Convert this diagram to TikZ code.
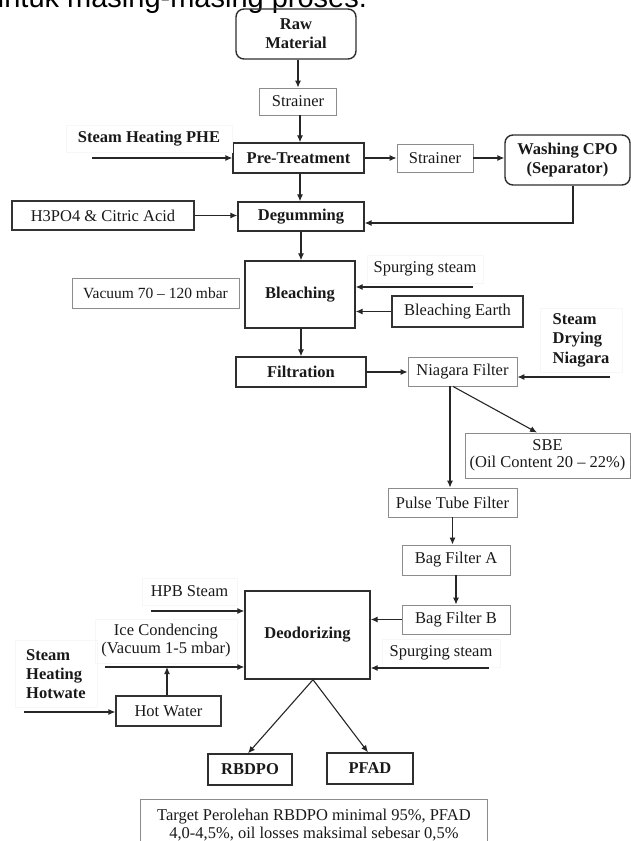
\documentclass[tikz,border=0pt]{standalone}
\usepackage{fontspec}
\setmainfont{Liberation Serif}
\newfontfamily\hdrfont{Liberation Sans}
\usetikzlibrary{arrows.meta}
\begin{document}
\begin{tikzpicture}[x=1pt,y=-1pt,
  txt/.style={font=\fontsize{16.5}{19}\selectfont, text=black!90},
  proc/.style={txt, draw=black!82, line width=1.4pt, inner sep=0pt, align=center, font=\bfseries\fontsize{16.5}{19}\selectfont},
  rproc/.style={proc, rounded corners=8pt},
  dbox/.style={txt, draw=black!80, line width=1.2pt, inner sep=0pt, align=center},
  gbox/.style={txt, draw=black!45, line width=0.9pt, inner sep=0pt, align=center},
  faint/.style={txt, draw=black!3, line width=0.6pt, inner sep=0pt},
  arr/.style={draw=black!85, line width=1.1pt, -{Latex[length=7pt,width=6pt]}},
  ln/.style={draw=black!85, line width=1.1pt}
]
\useasboundingbox (0,0) rectangle (631,841);

% header (clipped)
\node[anchor=base west, inner sep=0pt, font=\hdrfont\fontsize{29}{29}\selectfont, text=black] (hdr) at (-12,7) {untuk masing-masing proses.};

% main column
\node[rproc, minimum width=120pt, minimum height=50pt] (raw) at (296,34) {Raw\\Material};
\node[gbox, minimum width=77pt, minimum height=27pt] (s1) at (298,101.5) {Strainer};
\node[proc, minimum width=131pt, minimum height=30pt] (pre) at (298.5,158) {Pre-Treatment};
\node[gbox, minimum width=76pt, minimum height=28pt] (s2) at (435,158) {Strainer};
\node[rproc, minimum width=125pt, minimum height=50pt] (wash) at (567.5,160) {Washing CPO\\(Separator)};
\node[proc, minimum width=126pt, minimum height=29pt] (deg) at (301,216.5) {Degumming};
\node[dbox, minimum width=182pt, minimum height=29pt] (h3) at (103,215.5) {H3PO4 \& Citric Acid};
\node[proc, minimum width=110pt, minimum height=67pt] (blea) at (300,294.5) {Bleaching};
\node[gbox, minimum width=167pt, minimum height=30pt, font=\fontsize{15.5}{18}\selectfont] (vac) at (155.5,293) {Vacuum 70 -- 120 mbar};
\node[dbox, minimum width=131pt, minimum height=31pt] (be) at (457.5,311.5) {Bleaching Earth};
\node[proc, minimum width=130pt, minimum height=30pt] (filt) at (301,372) {Filtration};
\node[gbox, minimum width=109pt, minimum height=29pt] (nia) at (462.5,371.5) {Niagara Filter};
\node[gbox, minimum width=165pt, minimum height=45pt, font=\fontsize{16.5}{17}\selectfont] (sbe) at (547.5,455.5) {SBE\\(Oil Content 20 -- 22\%)};
\node[gbox, minimum width=129pt, minimum height=29pt] (ptf) at (452.5,502.5) {Pulse Tube Filter};
\node[gbox, minimum width=108pt, minimum height=30pt] (bga) at (456,560) {Bag Filter A};
\node[gbox, minimum width=108pt, minimum height=29pt] (bgb) at (456,619.5) {Bag Filter B};
\node[proc, minimum width=125pt, minimum height=88pt] (deo) at (307.5,635) {Deodorizing};
\node[dbox, minimum width=105pt, minimum height=30pt] (hw) at (168.5,711) {Hot Water};
\node[proc, minimum width=84pt, minimum height=31pt] (rbd) at (250,769.5) {RBDPO};
\node[proc, minimum width=86pt, minimum height=31pt] (pfad) at (370,768.5) {PFAD};
\node[gbox, minimum width=347pt, minimum height=52pt, anchor=north west, font=\fontsize{16.5}{18}\selectfont] (tgt) at (140,799) {Target Perolehan RBDPO minimal 95\%, PFAD\\4,0-4,5\%, oil losses maksimal sebesar 0,5\%};

% labels on faint boxes
\node[faint, minimum width=166pt, minimum height=27pt, font=\bfseries\fontsize{16.5}{19}\selectfont] (phe) at (149,138.5) {Steam Heating PHE};
\node[faint, minimum width=116pt, minimum height=28pt] (sp1l) at (425,269) {Spurging steam};
\node[faint, minimum width=82pt, minimum height=64pt, align=left, font=\bfseries\fontsize{16.5}{19.5}\selectfont] (sdn) at (581,340) {Steam\\Drying\\Niagara};
\node[faint, minimum width=95pt, minimum height=27pt] (hpb) at (189.5,591.5) {HPB Steam};
\node[faint, minimum width=142pt, minimum height=44pt, align=center, font=\fontsize{16.5}{18}\selectfont] (ice) at (166,641) {Ice Condencing\\(Vacuum 1-5 mbar)};
\node[faint, minimum width=82pt, minimum height=67pt, align=left, font=\bfseries\fontsize{16.5}{19}\selectfont] (shh) at (56,674) {Steam\\Heating\\Hotwate};
\node[faint, minimum width=118pt, minimum height=28pt] (sp2l) at (441,653) {Spurging steam};

% free ends
\coordinate (pheS) at (92,158);
\coordinate (wc) at (573,223);
\coordinate (sp1) at (473,287);
\coordinate (sd) at (610,377);
\coordinate (sp2) at (489,668);
\coordinate (hpbS) at (151,611);
\coordinate (iceS) at (105,667);
\coordinate (shS) at (24,712);

% connectors
\draw[arr] (s1.north |- raw.south) -- (s1.north);
\draw[arr] ([xshift=2pt]s1.south) -- ([xshift=2pt]s1.south |- pre.north);
\draw[arr] (pheS) -- (pre.west);
\draw[arr] (pre.east) -- (s2.west);
\draw[arr] (s2.east) -- (s2.east -| wash.west);
\draw[arr] (wash.south -| wc) -- (wc) -- (wc -| deg.east);
\draw[arr] ([xshift=1.5pt]pre.south) -- ([xshift=1.5pt]pre.south |- deg.north);
\draw[arr] (h3.east) -- (h3.east -| deg.west);
\draw[arr] (deg.south) -- (deg.south |- blea.north);
\draw[arr] (sp1) -- (sp1 -| blea.east);
\draw[arr] (be.west) -- (be.west -| blea.east);
\draw[arr] (blea.south -| filt.north) -- (filt.north);
\draw[arr] (filt.east) -- (filt.east -| nia.west);
\draw[arr] (sd) -- (sd -| nia.east);
\draw[arr] ([xshift=-12.5pt]nia.south) -- ([xshift=-12.5pt]nia.south |- ptf.north);
\draw[arr] ([xshift=-9.5pt]nia.south) -- ([xshift=-10.5pt]sbe.north);
\draw[arr] (ptf.south) -- (ptf.south |- bga.north);
\draw[arr] (bga.south) -- (bgb.north);
\draw[arr] (bgb.west) -- (bgb.west -| deo.east);
\draw[arr] (sp2) -- (sp2 -| deo.east);
\draw[arr] (hpbS) -- (hpbS -| deo.west);
\draw[arr] (iceS) -- (iceS -| deo.west);
\draw[arr] ([xshift=-1.5pt]hw.north) -- ([xshift=-1.5pt]hw.north |- iceS);
\draw[arr] (shS) -- (shS -| hw.west);
\draw[arr] ([xshift=5.5pt]deo.south) -- ([xshift=-2pt]rbd.north);
\draw[arr] ([xshift=5.5pt]deo.south) -- ([xshift=-2pt]pfad.north);
\end{tikzpicture}
\end{document}
